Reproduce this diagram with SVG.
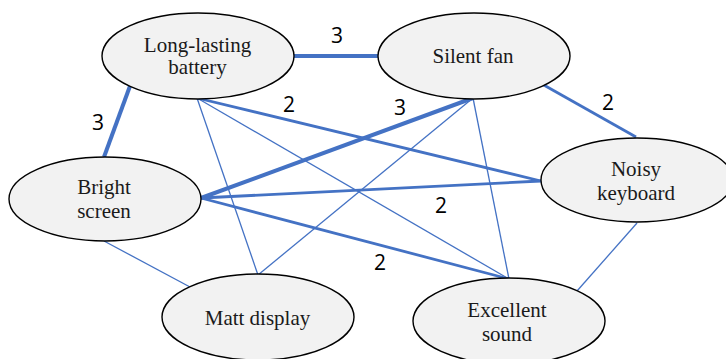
<svg xmlns="http://www.w3.org/2000/svg" width="726" height="359" viewBox="0 0 726 359">
  <style>
    .node ellipse { fill: #f2f2f2; stroke: #000; stroke-width: 1.4; }
    .node text { font-family: "Liberation Serif", "Times New Roman", serif; font-size: 21px; fill: #1a1a1a; text-anchor: middle; }
    .edge { stroke: #4472c4; fill: none; stroke-linecap: butt; }
    .w1 { stroke-width: 1.3; }
    .w2 { stroke-width: 2.8; }
    .w3 { stroke-width: 4; }
    .weight { font-family: "Open Sans", "Liberation Sans", Arial, sans-serif; font-size: 21px; fill: #000; text-anchor: middle; }
  </style>
  <rect width="726" height="359" fill="#fff"/>

  <g id="connectors">
    <!-- weight 3 -->
    <line class="edge w3" x1="294" y1="56" x2="378" y2="56"/>
    <line class="edge w3" x1="130" y1="86" x2="104" y2="157"/>
    <line class="edge w3" x1="473" y1="98" x2="201" y2="198"/>
    <!-- weight 2 -->
    <line class="edge w2" x1="197" y1="98" x2="541" y2="181"/>
    <line class="edge w2" x1="542" y1="84" x2="636" y2="137"/>
    <line class="edge w2" x1="201" y1="198" x2="541" y2="181"/>
    <line class="edge w2" x1="201" y1="198" x2="509" y2="279"/>
    <!-- weight 1 -->
    <line class="edge w1" x1="197" y1="98" x2="258" y2="275"/>
    <line class="edge w1" x1="197" y1="98" x2="509" y2="279"/>
    <line class="edge w1" x1="473" y1="98" x2="258" y2="275"/>
    <line class="edge w1" x1="473" y1="98" x2="509" y2="279"/>
    <line class="edge w1" x1="104" y1="241" x2="190" y2="287"/>
    <line class="edge w1" x1="637" y1="223" x2="577" y2="291"/>

    <text class="weight" x="337" y="43">3</text>
    <text class="weight" x="98" y="130">3</text>
    <text class="weight" x="289" y="112">2</text>
    <text class="weight" x="400" y="115">3</text>
    <text class="weight" x="608" y="110">2</text>
    <text class="weight" x="441" y="213">2</text>
    <text class="weight" x="380" y="270">2</text>
  </g>

  <g id="long-lasting-battery" class="node">
    <ellipse cx="198" cy="56" rx="96" ry="43"/>
    <text x="197.5" y="52">Long-lasting</text>
    <text x="197.5" y="74">battery</text>
  </g>

  <g id="silent-fan" class="node">
    <ellipse cx="474" cy="56" rx="96" ry="43"/>
    <text x="473" y="63">Silent fan</text>
  </g>

  <g id="bright-screen" class="node">
    <ellipse cx="105" cy="199" rx="96" ry="42"/>
    <text x="104" y="194">Bright</text>
    <text x="104" y="218">screen</text>
  </g>

  <g id="noisy-keyboard" class="node">
    <ellipse cx="637" cy="180" rx="96" ry="42"/>
    <text x="636" y="176">Noisy</text>
    <text x="636" y="200">keyboard</text>
  </g>

  <g id="matt-display" class="node">
    <ellipse cx="258" cy="317" rx="96" ry="43"/>
    <text x="257.5" y="325">Matt display</text>
  </g>

  <g id="excellent-sound" class="node">
    <ellipse cx="509" cy="321" rx="96" ry="43"/>
    <text x="507" y="317">Excellent</text>
    <text x="507" y="341">sound</text>
  </g>
</svg>
